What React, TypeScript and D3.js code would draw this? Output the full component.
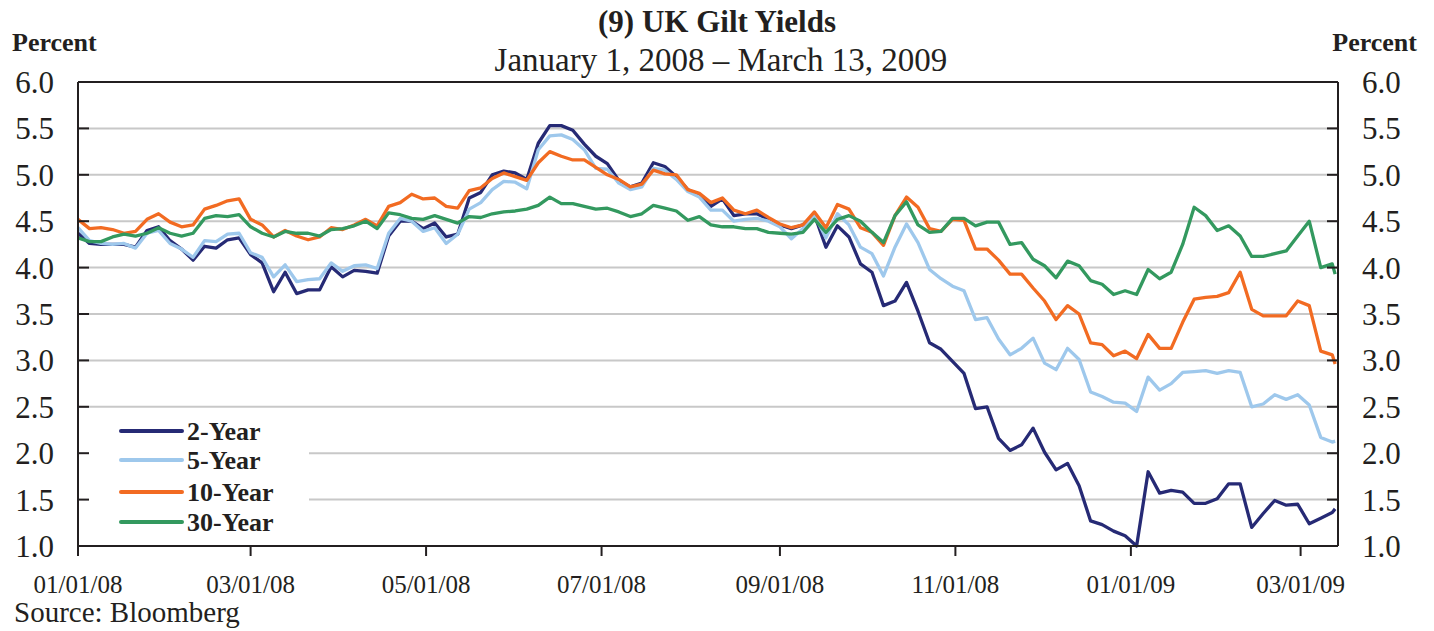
import * as d3 from 'd3'

const dates = [
  '2008-01-01', '2008-01-05', '2008-01-09', '2008-01-13', '2008-01-17', '2008-01-21', '2008-01-25', '2008-01-29',
  '2008-02-02', '2008-02-06', '2008-02-10', '2008-02-14', '2008-02-18', '2008-02-22', '2008-02-26',
  '2008-03-01', '2008-03-05', '2008-03-09', '2008-03-13', '2008-03-17', '2008-03-21', '2008-03-25', '2008-03-29',
  '2008-04-02', '2008-04-06', '2008-04-10', '2008-04-14', '2008-04-18', '2008-04-22', '2008-04-26', '2008-04-30',
  '2008-05-04', '2008-05-08', '2008-05-12', '2008-05-16', '2008-05-20', '2008-05-24', '2008-05-28',
  '2008-06-01', '2008-06-05', '2008-06-09', '2008-06-13', '2008-06-17', '2008-06-21', '2008-06-25', '2008-06-29',
  '2008-07-03', '2008-07-07', '2008-07-11', '2008-07-15', '2008-07-19', '2008-07-23', '2008-07-27', '2008-07-31',
  '2008-08-04', '2008-08-08', '2008-08-12', '2008-08-16', '2008-08-20', '2008-08-24', '2008-08-28',
  '2008-09-01', '2008-09-05', '2008-09-09', '2008-09-13', '2008-09-17', '2008-09-21', '2008-09-25', '2008-09-29',
  '2008-10-03', '2008-10-07', '2008-10-11', '2008-10-15', '2008-10-19', '2008-10-23', '2008-10-27', '2008-10-31',
  '2008-11-04', '2008-11-08', '2008-11-12', '2008-11-16', '2008-11-20', '2008-11-24', '2008-11-28',
  '2008-12-02', '2008-12-06', '2008-12-10', '2008-12-14', '2008-12-18', '2008-12-22', '2008-12-26', '2008-12-30',
  '2009-01-03', '2009-01-07', '2009-01-11', '2009-01-15', '2009-01-19', '2009-01-23', '2009-01-27', '2009-01-31',
  '2009-02-04', '2009-02-08', '2009-02-12', '2009-02-16', '2009-02-20', '2009-02-24', '2009-02-28',
  '2009-03-04', '2009-03-08', '2009-03-12', '2009-03-13',
]

const twoYear = [
  4.37, 4.26, 4.25, 4.25, 4.25, 4.22, 4.40, 4.44, 4.29, 4.20,
  4.08, 4.23, 4.21, 4.30, 4.32, 4.14, 4.05, 3.74, 3.95, 3.72,
  3.76, 3.76, 4.01, 3.90, 3.97, 3.96, 3.94, 4.34, 4.50, 4.50,
  4.42, 4.48, 4.33, 4.36, 4.75, 4.81, 5.00, 5.04, 5.02, 4.95,
  5.34, 5.53, 5.53, 5.48, 5.33, 5.20, 5.12, 4.94, 4.87, 4.91,
  5.13, 5.09, 4.98, 4.84, 4.78, 4.66, 4.74, 4.56, 4.58, 4.58,
  4.52, 4.46, 4.42, 4.46, 4.57, 4.22, 4.45, 4.33, 4.04, 3.95,
  3.59, 3.64, 3.84, 3.53, 3.19, 3.12, 2.99, 2.86, 2.48, 2.50,
  2.16, 2.03, 2.09, 2.27, 2.01, 1.82, 1.89, 1.65, 1.27, 1.23,
  1.16, 1.11, 1.00, 1.80, 1.57, 1.60, 1.58, 1.46, 1.46, 1.51,
  1.67, 1.67, 1.20, 1.35, 1.49, 1.44, 1.45, 1.24, 1.30, 1.36, 1.40,
]

const fiveYear = [
  4.43, 4.29, 4.26, 4.25, 4.26, 4.21, 4.37, 4.40, 4.26, 4.20,
  4.11, 4.29, 4.28, 4.36, 4.37, 4.16, 4.11, 3.90, 4.03, 3.85,
  3.87, 3.88, 4.05, 3.96, 4.02, 4.03, 3.99, 4.37, 4.53, 4.50,
  4.39, 4.43, 4.26, 4.36, 4.63, 4.70, 4.84, 4.93, 4.92, 4.85,
  5.27, 5.42, 5.43, 5.38, 5.27, 5.07, 5.06, 4.91, 4.84, 4.87,
  5.07, 5.05, 4.95, 4.82, 4.76, 4.62, 4.62, 4.50, 4.52, 4.53,
  4.50, 4.44, 4.31, 4.42, 4.57, 4.32, 4.58, 4.46, 4.22, 4.15,
  3.91, 4.22, 4.47, 4.27, 3.98, 3.88, 3.80, 3.75, 3.44, 3.46,
  3.23, 3.06, 3.13, 3.24, 2.97, 2.90, 3.13, 3.01, 2.66, 2.61,
  2.55, 2.54, 2.45, 2.82, 2.68, 2.75, 2.87, 2.88, 2.89, 2.86,
  2.89, 2.87, 2.50, 2.53, 2.63, 2.58, 2.63, 2.52, 2.17, 2.12, 2.13,
]

const tenYear = [
  4.52, 4.42, 4.43, 4.41, 4.37, 4.39, 4.52, 4.58, 4.49, 4.44,
  4.46, 4.63, 4.67, 4.72, 4.74, 4.52, 4.46, 4.33, 4.40, 4.34,
  4.30, 4.33, 4.43, 4.41, 4.46, 4.52, 4.45, 4.66, 4.70, 4.79,
  4.74, 4.75, 4.66, 4.64, 4.83, 4.86, 4.96, 5.02, 4.98, 4.94,
  5.13, 5.25, 5.20, 5.16, 5.16, 5.08, 5.00, 4.95, 4.87, 4.90,
  5.05, 5.01, 5.00, 4.84, 4.80, 4.70, 4.75, 4.62, 4.58, 4.62,
  4.54, 4.47, 4.43, 4.46, 4.60, 4.43, 4.68, 4.63, 4.43, 4.38,
  4.24, 4.56, 4.76, 4.65, 4.42, 4.39, 4.52, 4.51, 4.20, 4.20,
  4.08, 3.93, 3.93, 3.78, 3.64, 3.44, 3.59, 3.50, 3.19, 3.17,
  3.05, 3.10, 3.02, 3.28, 3.13, 3.13, 3.41, 3.66, 3.68, 3.69,
  3.73, 3.95, 3.55, 3.48, 3.48, 3.48, 3.64, 3.59, 3.10, 3.06, 2.96,
]

const thirtyYear = [
  4.32, 4.28, 4.28, 4.33, 4.36, 4.34, 4.37, 4.43, 4.37, 4.34,
  4.37, 4.53, 4.56, 4.55, 4.57, 4.44, 4.37, 4.33, 4.39, 4.37,
  4.37, 4.34, 4.41, 4.42, 4.45, 4.50, 4.42, 4.59, 4.57, 4.53,
  4.52, 4.56, 4.52, 4.48, 4.55, 4.54, 4.58, 4.60, 4.61, 4.63,
  4.67, 4.76, 4.69, 4.69, 4.66, 4.63, 4.64, 4.60, 4.55, 4.58,
  4.67, 4.64, 4.61, 4.51, 4.55, 4.46, 4.44, 4.44, 4.42, 4.42,
  4.38, 4.37, 4.36, 4.38, 4.52, 4.38, 4.52, 4.56, 4.50, 4.38,
  4.27, 4.56, 4.71, 4.46, 4.38, 4.39, 4.53, 4.53, 4.45, 4.49,
  4.49, 4.25, 4.27, 4.09, 4.02, 3.89, 4.07, 4.02, 3.86, 3.82,
  3.71, 3.75, 3.71, 3.98, 3.88, 3.95, 4.25, 4.65, 4.56, 4.40,
  4.45, 4.34, 4.12, 4.12, 4.15, 4.18, 4.34, 4.50, 4.00, 4.04, 3.93,
]

const seriesNames = ['2-Year', '5-Year', '10-Year', '30-Year']
const seriesColors = ['#262a75', '#9ec8ec', '#f26b22', '#33995f']
const yTicks = [1.0, 1.5, 2.0, 2.5, 3.0, 3.5, 4.0, 4.5, 5.0, 5.5, 6.0]
const xTickLabels = ['01/01/08', '03/01/08', '05/01/08', '07/01/08', '09/01/08', '11/01/08', '01/01/09', '03/01/09']

const W = 1434
const H = 631
const left = 78
const right = 1338
const top = 82
const bottom = 546
const serif = '"Liberation Serif", "Times New Roman", serif'
const axisColor = '#231f20'

export default function App() {
  const parse = d3.timeParse('%Y-%m-%d')
  const parseTick = d3.timeParse('%m/%d/%y')
  const x = d3
    .scaleTime()
    .domain([parse('2008-01-01') as Date, parse('2009-03-14') as Date])
    .range([left, right])
  const y = d3.scaleLinear().domain([1, 6]).range([bottom, top])

  const allSeries = [twoYear, fiveYear, tenYear, thirtyYear]
  const line = d3
    .line<number>()
    .x((_, i) => x(parse(dates[i]) as Date))
    .y((v) => y(v))

  const legendY = [431, 460, 492, 522]

  return (
    <svg
      width={W}
      height={H}
      style={{ position: 'absolute', left: 0, top: 0, background: '#fff' }}
      fontFamily={serif}
    >
      {/* titles */}
      <text x={717} y={32} textAnchor="middle" fontSize={31} fontWeight="bold" fill="#231f20">
        (9) UK Gilt Yields
      </text>
      <text x={721} y={71} textAnchor="middle" fontSize={33} fill="#231f20">
        January 1, 2008 – March 13, 2009
      </text>
      <text x={12} y={51} fontSize={26} fontWeight="bold" fill="#231f20">
        Percent
      </text>
      <text x={1417} y={51} textAnchor="end" fontSize={26} fontWeight="bold" fill="#231f20">
        Percent
      </text>

      {/* gridlines */}
      {yTicks.slice(1, -1).map((t) => (
        <line key={t} x1={left} x2={right} y1={y(t)} y2={y(t)} stroke="#c8c8c8" strokeWidth={2} />
      ))}

      {/* legend box */}
      <rect x={left + 1} y={410} width={230} height={bottom - 411} fill="#fff" />

      {/* series */}
      {allSeries.map((s, i) => (
        <path
          key={seriesNames[i]}
          d={line(s) ?? ''}
          fill="none"
          stroke={seriesColors[i]}
          strokeWidth={3.3}
          strokeLinejoin="round"
        />
      ))}

      {/* frame */}
      <line x1={left} x2={right} y1={top} y2={top} stroke={axisColor} strokeWidth={2} />
      <line x1={left} x2={right} y1={bottom} y2={bottom} stroke={axisColor} strokeWidth={2} />
      <line x1={left} x2={left} y1={top} y2={bottom} stroke={axisColor} strokeWidth={2} />
      <line x1={right} x2={right} y1={top} y2={bottom} stroke={axisColor} strokeWidth={2} />

      {/* y ticks and labels */}
      {yTicks.map((t) => (
        <g key={t}>
          <line x1={left} x2={left + 11} y1={y(t)} y2={y(t)} stroke={axisColor} strokeWidth={2} />
          <line x1={right - 11} x2={right} y1={y(t)} y2={y(t)} stroke={axisColor} strokeWidth={2} />
          <text x={54} y={y(t) + 11} textAnchor="end" fontSize={31} fill="#231f20">
            {t.toFixed(1)}
          </text>
          <text x={1362} y={y(t) + 11} fontSize={31} fill="#231f20">
            {t.toFixed(1)}
          </text>
        </g>
      ))}

      {/* x ticks and labels */}
      {xTickLabels.map((lab) => {
        const xp = x(parseTick(lab) as Date)
        return (
          <g key={lab}>
            <line x1={xp} x2={xp} y1={bottom} y2={bottom + 10} stroke={axisColor} strokeWidth={2} />
            <text x={xp} y={593} textAnchor="middle" fontSize={25} fill="#231f20">
              {lab}
            </text>
          </g>
        )
      })}

      {/* legend */}
      {seriesNames.map((n, i) => (
        <g key={n}>
          <line x1={121} x2={182} y1={legendY[i]} y2={legendY[i]} stroke={seriesColors[i]} strokeWidth={4} strokeLinecap="round" />
          <text x={187} y={legendY[i] + 9} fontSize={26} fontWeight="bold" fill="#231f20">
            {n}
          </text>
        </g>
      ))}

      <text x={14} y={622} fontSize={29} fill="#231f20">
        Source: Bloomberg
      </text>
    </svg>
  )
}
